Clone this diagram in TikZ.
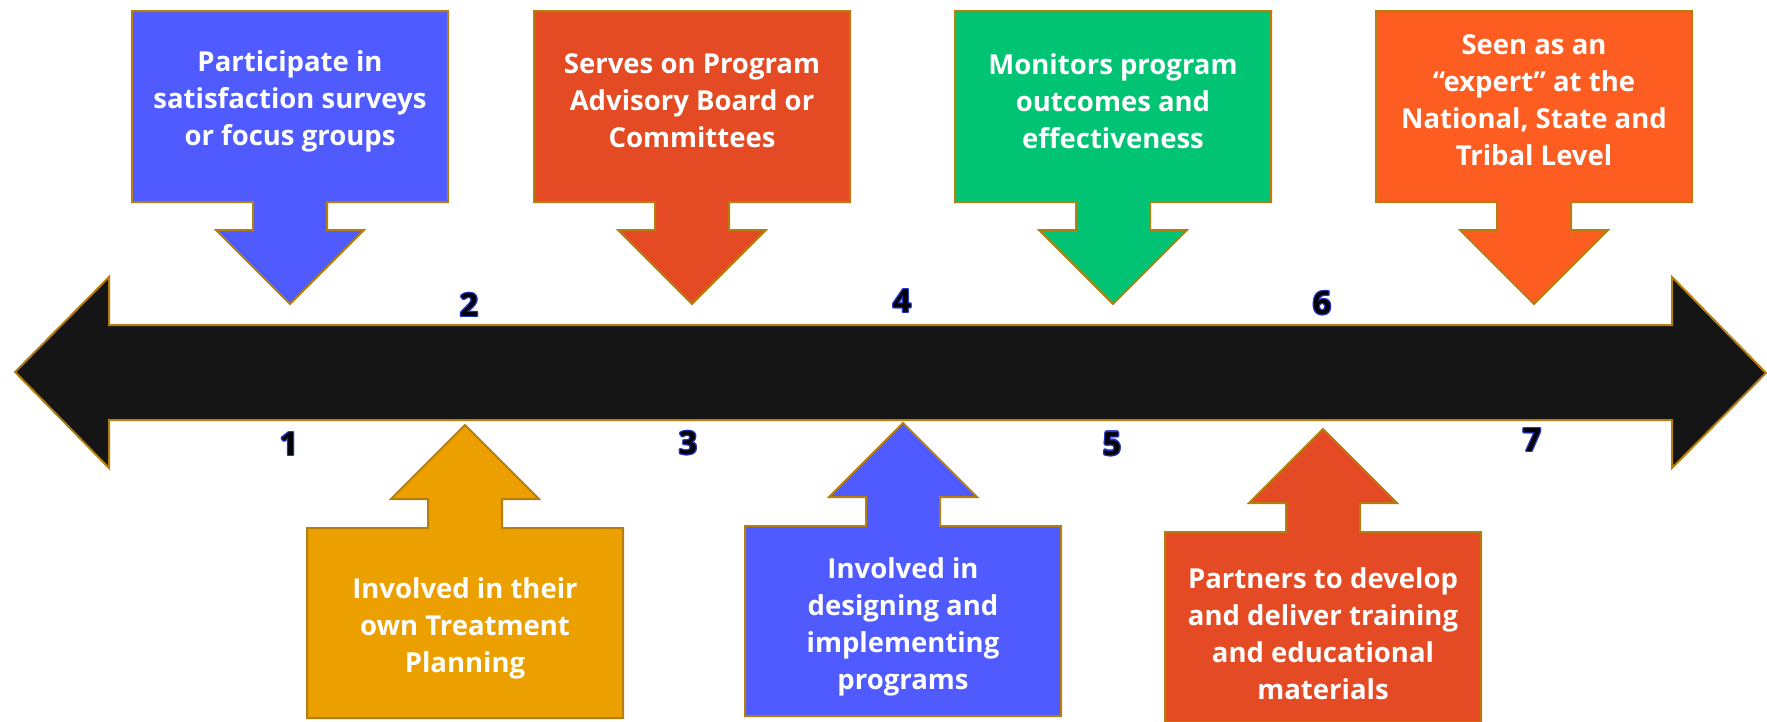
\documentclass[tikz,border=0pt]{standalone}
\usepackage{fontspec}
\setmainfont{Open Sans}
\newfontfamily\numfont{Open Sans Bold}
\usetikzlibrary{positioning}

\definecolor{goldline}{HTML}{B57F0F}
\definecolor{shaft}{HTML}{151515}
\definecolor{cblue}{HTML}{4F5BFF}
\definecolor{camber}{HTML}{EBA000}
\definecolor{cred}{HTML}{E44A23}
\definecolor{cgreen}{HTML}{00C473}
\definecolor{corange}{HTML}{FE5D22}
\definecolor{numblue}{HTML}{2436C8}

% callout pointing down to the timeline (x centre, colour)
\newcommand{\calldown}[2]{%
  \draw[callline, fill=#2] (#1-158,11) -- (#1+158,11) -- (#1+158,202) -- (#1+37,202)
    -- (#1+37,230) -- (#1+74,230) -- (#1,304) -- (#1-74,230) -- (#1-37,230)
    -- (#1-37,202) -- (#1-158,202) -- cycle;}
% callout pointing up to the timeline (x centre, box top, colour)
\newcommand{\callup}[3]{%
  \draw[callline, fill=#3] (#1-158,#2) -- (#1-37,#2) -- (#1-37,#2-29) -- (#1-74,#2-29)
    -- (#1,#2-103) -- (#1+74,#2-29) -- (#1+37,#2-29) -- (#1+37,#2) -- (#1+158,#2)
    -- (#1+158,#2+190) -- (#1-158,#2+190) -- cycle;}
% digit with a blue rim
\newcommand{\stepnum}[1]{%
  \rlap{\color{numblue}\kern-1.3pt#1}\rlap{\color{numblue}\kern1.3pt#1}%
  \rlap{\color{numblue}\smash{\raisebox{1.3pt}{#1}}}\rlap{\color{numblue}\smash{\raisebox{-1.3pt}{#1}}}%
  \rlap{\color{numblue}\kern-0.9pt\smash{\raisebox{0.9pt}{#1}}}\rlap{\color{numblue}\kern0.9pt\smash{\raisebox{-0.9pt}{#1}}}%
  \rlap{\color{numblue}\kern0.9pt\smash{\raisebox{0.9pt}{#1}}}\rlap{\color{numblue}\kern-0.9pt\smash{\raisebox{-0.9pt}{#1}}}%
  #1}

\begin{document}
\begin{tikzpicture}[x=1pt,y=-1pt]

%styles
\tikzstyle{callline} = [draw=goldline, line width=2pt, line join=miter]
\tikzstyle{calltext} = [text=white, align=center, inner sep=0pt, font=\bfseries\fontsize{27.5}{37}\selectfont]
\tikzstyle{numtext}  = [text=black, inner sep=0pt, font=\numfont\fontsize{32}{32}\selectfont]

\useasboundingbox (0,0) rectangle (1767,721);

%timeline
\draw[callline, fill=shaft] (15,372) -- (109,277) -- (109,325) -- (1672,325) -- (1672,277)
  -- (1766,373) -- (1672,468) -- (1672,420) -- (109,420) -- (109,468) -- cycle;

%callouts above
\calldown{290}{cblue}
\calldown{692}{cred}
\calldown{1113}{cgreen}
\calldown{1534}{corange}

%callouts below
\callup{465}{528}{camber}
\callup{903}{526}{cblue}
\callup{1323}{532}{cred}

%texts
\node (t1) [calltext] at (290,101)  {Participate in\\satisfaction surveys\\or focus groups};
\node (t3) [calltext] at (692,101)  {Serves on Program\\Advisory Board or\\Committees};
\node (t5) [calltext] at (1113,101) {Monitors program\\outcomes and\\effectiveness};
\node (t7) [calltext] at (1534,100) {Seen as an\\“expert” at the\\National, State and\\Tribal Level};
\node (t2) [calltext] at (465,628)  {Involved in their\\own Treatment\\Planning};
\node (t4) [calltext] at (903,627)  {Involved in\\designing and\\implementing\\programs};
\node (t6) [calltext] at (1323,634) {Partners to develop\\and deliver training\\and educational\\materials};

%step numbers
\node (n1) [numtext] at (289,444)  {\stepnum{1}};
\node (n2) [numtext] at (469,305)  {\stepnum{2}};
\node (n3) [numtext] at (688,443)  {\stepnum{3}};
\node (n4) [numtext] at (902,301)  {\stepnum{4}};
\node (n5) [numtext] at (1112,444) {\stepnum{5}};
\node (n6) [numtext] at (1322,303) {\stepnum{6}};
\node (n7) [numtext] at (1532,440) {\stepnum{7}};

\end{tikzpicture}
\end{document}
